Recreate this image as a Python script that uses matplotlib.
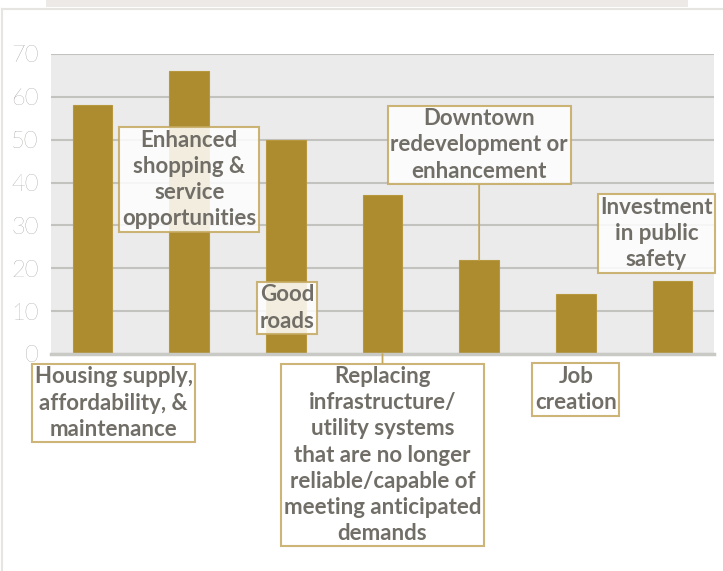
import matplotlib
matplotlib.use("Agg")
import matplotlib.pyplot as plt
from matplotlib.patches import Rectangle
from matplotlib.lines import Line2D

categories = [
    "Housing supply,\naffordability, &\nmaintenance",
    "Enhanced\nshopping &\nservice\nopportunities",
    "Good\nroads",
    "Replacing\ninfrastructure/\nutility systems\nthat are no longer\nreliable/capable of\nmeeting anticipated\ndemands",
    "Downtown\nredevelopment or\nenhancement",
    "Job\ncreation",
    "Investment\nin public\nsafety",
]
values = [58, 66, 50, 37, 22, 14, 17]
yticks = [0, 10, 20, 30, 40, 50, 60, 70]

# label placement (pixel offsets from the bar base) and whether a leader line is drawn
label_offsets = [(21, -49), (0, 174.5), (1, 46), (0, -101), (0, 209), (0, -35.5), (-16, 120.5)]
leader = [None, None, None, "base", "top", None, None]

GOLD = "#AD8C30"
EDGE = "#C4A85E"
TXT = "#716E67"
TICK = "#7E7C77"
BG = "#EBEBEB"
GRID = "#C2C2BE"

fig = plt.figure(figsize=(7.23, 5.71), dpi=100)
fig.patch.set_facecolor("white")

# decorative frame
fig.add_artist(Rectangle((46 / 723, 1 - 7 / 571), (688 - 46) / 723, 7 / 571,
                         transform=fig.transFigure, facecolor="#ECE9E6", edgecolor="none"))
fig.add_artist(Line2D([2 / 723, 1], [1 - 9 / 571, 1 - 9 / 571], transform=fig.transFigure,
                      color="#E6E5E2", lw=1.5))
fig.add_artist(Line2D([2 / 723, 2 / 723], [0, 1 - 9 / 571], transform=fig.transFigure,
                      color="#E6E5E2", lw=1.5))

ax = fig.add_axes([51 / 723, 1 - 354 / 571, (714 - 51) / 723, (354 - 54) / 571])
ax.set_facecolor(BG)
x = list(range(len(values)))
ax.bar(x, values, width=0.41, color=GOLD, edgecolor="#B8983F", linewidth=0.8, zorder=3)
ax.set_xlim(-0.43, 6.43)
ax.set_ylim(0, 70)
ax.set_yticks(yticks)
ax.set_yticklabels([str(t) for t in yticks], fontsize=17, color=TICK,
                   fontfamily="Lato", fontweight="light")
ax.set_xticks([])
ax.tick_params(axis="y", length=0, pad=9)
ax.yaxis.grid(True, color=GRID, lw=1.5, zorder=1)
ax.set_axisbelow(True)
for s in ["left", "right", "top"]:
    ax.spines[s].set_visible(False)
ax.spines["bottom"].set_color("#C9C9C5")
ax.spines["bottom"].set_linewidth(2.5)
ax.spines["bottom"].set_zorder(4)

for i, (lab, v) in enumerate(zip(categories, values)):
    dx, dy = label_offsets[i]
    kw = {}
    if leader[i] == "base":
        xy = (i, 0)
        kw["arrowprops"] = dict(arrowstyle="-", color=EDGE, lw=1.3, shrinkA=0, shrinkB=0)
    elif leader[i] == "top":
        xy = (i, v)
        dy = dy - v * (300 / 70)
        kw["arrowprops"] = dict(arrowstyle="-", color=EDGE, lw=1.3, shrinkA=0, shrinkB=0)
    else:
        xy = (i, 0)
    ax.annotate(lab, xy=xy, xytext=(dx, dy), textcoords="offset pixels",
                ha="center", va="center", multialignment="center",
                fontsize=16, fontfamily="Lato", fontweight="bold", color=TXT,
                linespacing=1.3, annotation_clip=False, zorder=6,
                bbox=dict(boxstyle="square,pad=0.12", facecolor="white", alpha=0.85,
                          edgecolor=EDGE, linewidth=1.5),
                **kw)

fig.savefig("out.png", dpi=100, facecolor="white")
